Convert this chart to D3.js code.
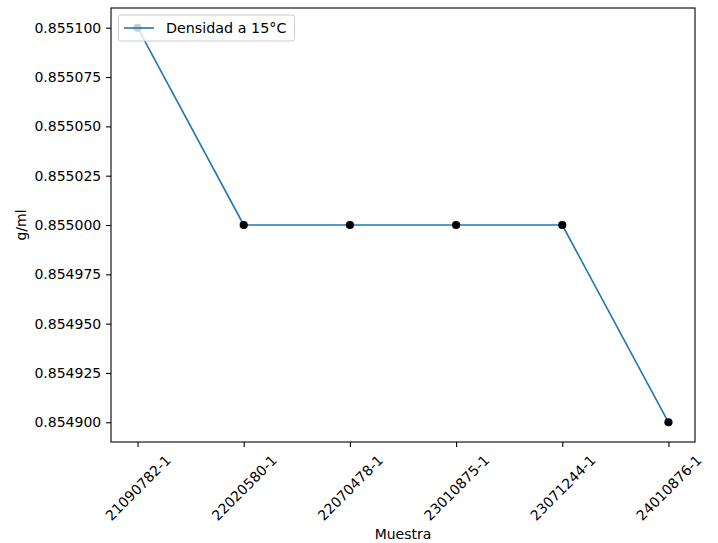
<!DOCTYPE html>
<html>
<head>
<meta charset="utf-8">
<script src="https://cdn.jsdelivr.net/npm/d3@7"></script>
<style>
  html, body { margin: 0; padding: 0; background: #fff; }
  svg text { font-family: "DejaVu Sans", sans-serif; fill: #000; }
</style>
</head>
<body>
<svg id="chart" width="718" height="543"></svg>
<script>
// Muestras y densidad medida a 15 °C
const samples = ["21090782-1", "22020580-1", "22070478-1", "23010875-1", "23071244-1", "24010876-1"];
const density = [0.8551, 0.855, 0.855, 0.855, 0.855, 0.8549];
const yTicks = [0.8549, 0.854925, 0.85495, 0.854975, 0.855, 0.855025, 0.85505, 0.855075, 0.8551];
const seriesName = "Densidad a 15°C";

const W = 718, H = 543;
const plot = { left: 111, right: 695, top: 8, bottom: 442 };
const fontSize = 14;
const legendFont = 14.3;
const lineColor = "#1f77b4";

const svg = d3.select("#chart");

// Ejes con un 5 % de margen a cada lado, como en matplotlib
const idx = d3.range(samples.length);
const xPad = (samples.length - 1) * 0.05;
const x = d3.scaleLinear()
  .domain([-xPad, samples.length - 1 + xPad])
  .range([plot.left, plot.right]);

const yMin = d3.min(density), yMax = d3.max(density);
const yPad = (yMax - yMin) * 0.05;
const y = d3.scaleLinear()
  .domain([yMin - yPad, yMax + yPad])
  .range([plot.bottom, plot.top]);

// Eje Y
const yAxis = d3.axisLeft(y)
  .tickValues(yTicks)
  .tickFormat(d3.format(".6f"))
  .tickSize(4.9)
  .tickPadding(4.9);
const gy = svg.append("g")
  .attr("transform", `translate(${plot.left},0)`)
  .call(yAxis);
gy.select(".domain").remove();
gy.selectAll(".tick line").attr("stroke", "#000").attr("stroke-width", 1.1);
gy.selectAll(".tick text")
  .style("font-size", fontSize + "px")
  .style("font-family", "DejaVu Sans, sans-serif");

// Eje X con etiquetas giradas 45°
const xAxis = d3.axisBottom(x)
  .tickValues(idx)
  .tickFormat(i => samples[i])
  .tickSize(4.9)
  .tickPadding(4.9);
const gx = svg.append("g")
  .attr("transform", `translate(0,${plot.bottom})`)
  .call(xAxis);
gx.select(".domain").remove();
gx.selectAll(".tick line").attr("stroke", "#000").attr("stroke-width", 1.1);
gx.selectAll(".tick text")
  .style("font-size", fontSize + "px")
  .style("font-family", "DejaVu Sans, sans-serif")
  .attr("text-anchor", "middle")
  .attr("dy", null)
  .attr("dominant-baseline", "central")
  .each(function () {
    const t = d3.select(this);
    const w = this.getComputedTextLength();
    const h = fontSize * 1.17;
    const side = (w + h) * Math.SQRT1_2;
    const top = 4.9 + 4.9;
    t.attr("y", 0)
     .attr("transform", `translate(0,${top + side / 2}) rotate(-45)`);
  });

// Línea de la serie
const line = d3.line()
  .x((d, i) => x(i))
  .y(d => y(d));
svg.append("path")
  .datum(density)
  .attr("fill", "none")
  .attr("stroke", lineColor)
  .attr("stroke-width", 1.6)
  .attr("stroke-linejoin", "round")
  .attr("d", line);

// Puntos
svg.append("g")
  .selectAll("circle")
  .data(density)
  .join("circle")
  .attr("cx", (d, i) => x(i))
  .attr("cy", d => y(d))
  .attr("r", 4.1)
  .attr("fill", "#000");

// Marco del gráfico
svg.append("rect")
  .attr("x", plot.left)
  .attr("y", plot.top)
  .attr("width", plot.right - plot.left)
  .attr("height", plot.bottom - plot.top)
  .attr("fill", "none")
  .attr("stroke", "#000")
  .attr("stroke-width", 1.1);

// Títulos de los ejes
svg.append("text")
  .attr("x", (plot.left + plot.right) / 2)
  .attr("y", 538.5)
  .attr("text-anchor", "middle")
  .style("font-size", fontSize + "px")
  .text("Muestra");

svg.append("text")
  .attr("transform", `translate(25.5,${(plot.top + plot.bottom) / 2}) rotate(-90)`)
  .attr("text-anchor", "middle")
  .style("font-size", fontSize + "px")
  .text("g/ml");

// Leyenda
const leg = svg.append("g").attr("transform", "translate(118.5,15)");
leg.append("rect")
  .attr("width", 176)
  .attr("height", 26)
  .attr("rx", 2.5)
  .attr("fill", "#fff")
  .attr("fill-opacity", 0.8)
  .attr("stroke", "#cccccc")
  .attr("stroke-width", 1);
leg.append("line")
  .attr("x1", 5.5).attr("x2", 35.5)
  .attr("y1", 13).attr("y2", 13)
  .attr("stroke", lineColor)
  .attr("stroke-width", 1.6);
leg.append("text")
  .attr("x", 47.5)
  .attr("y", 13)
  .attr("dominant-baseline", "central")
  .style("font-size", legendFont + "px")
  .text(seriesName);
</script>
</body>
</html>
